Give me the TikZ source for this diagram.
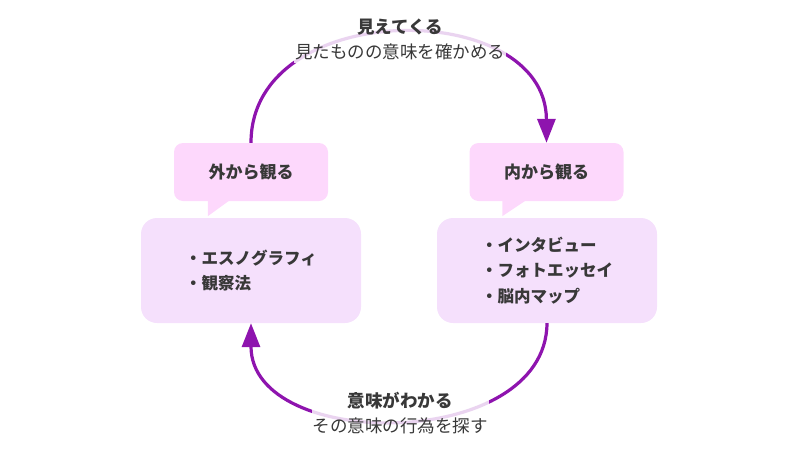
\documentclass[tikz,border=0pt]{standalone}
\usepackage{fontspec}
\setmainfont{Noto Sans CJK JP}
\usetikzlibrary{arrows.meta}
\definecolor{arcpurple}{HTML}{8E14AE}
\definecolor{headpink}{HTML}{FDD8FC}
\definecolor{bodylilac}{HTML}{F5E0FC}
\definecolor{textgray}{HTML}{383838}
\tikzset{
  head/.style={fill=headpink, rounded corners=9pt, minimum width=154pt, minimum height=58pt, inner sep=0pt, font=\fontsize{17}{25}\selectfont\bfseries, text=textgray},
  body/.style={fill=bodylilac, rounded corners=16pt, minimum width=220pt, minimum height=105pt, inner sep=0pt, align=left, font=\fontsize{16.5}{25.5}\selectfont\bfseries, text=textgray},
  loop/.style={draw=arcpurple, line width=3.2pt, -{Triangle[length=24pt,width=18pt]}},
  arclabel/.style={fill=white, fill opacity=0.82, text opacity=1, align=center, inner xsep=1pt, inner ysep=3pt, font=\fontsize{17.5}{25}\selectfont, text=textgray}
}
\begin{document}
\begin{tikzpicture}[x=1pt,y=1pt]
\useasboundingbox (0,0) rectangle (800,-453);
% boxes
\node [head] (outhead) at (251,-172) {外から観る};
\node [body] (outbody) at (251,-270.5) {・エスノグラフィ\\・観察法};
\node [head] (inhead) at (546.5,-172) {内から観る};
\node [body] (inbody) at (547,-270.5) {・インタビュー\\・フォトエッセイ\\・脳内マップ};
% callout tails
\fill [headpink] ([xshift=34pt,yshift=1pt]outhead.south west) -- ++(0,-16) -- ++(22,16) -- cycle;
\fill [headpink] ([xshift=33pt,yshift=1pt]inhead.south west) -- ++(0,-16) -- ++(24,16) -- cycle;
% loops
\draw [loop] (outhead.north) .. controls (251,3) and (546,3) .. (inhead.north);
\draw [loop] (inbody.south) .. controls (546,-452) and (251,-452) .. (outbody.south);
\node [arclabel] (seen) at (400,-39.5) {{\bfseries 見えてくる}\\見たものの意味を確かめる};
\node [arclabel] (meaning) at (400,-413.5) {{\bfseries 意味がわかる}\\その意味の行為を探す};
\end{tikzpicture}
\end{document}
